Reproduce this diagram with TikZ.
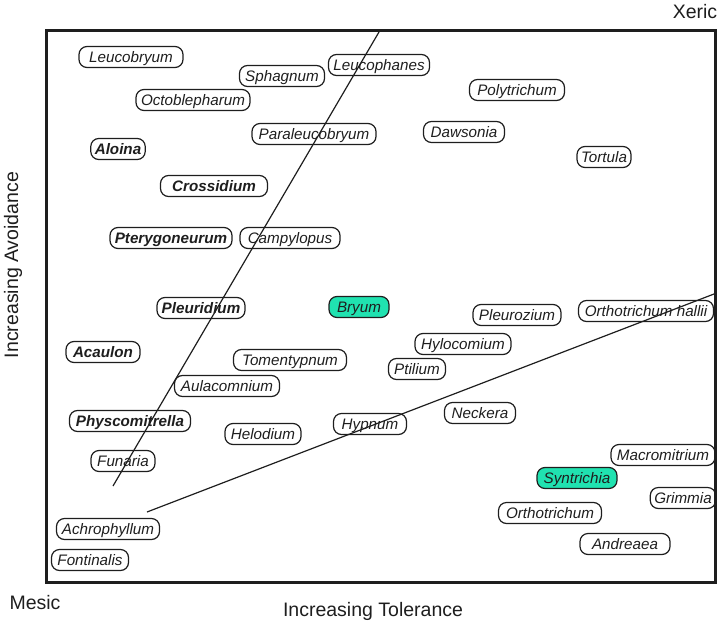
\documentclass[tikz,border=0pt]{standalone}
\usepackage{fontspec}
\setmainfont{Liberation Sans}
\definecolor{teal1}{RGB}{32,226,176}
\definecolor{ink}{RGB}{30,30,30}
\begin{document}
\begin{tikzpicture}[x=1pt,y=-1pt,
  sp/.style={draw=ink, line width=1.2pt, rounded corners=8pt, minimum height=21pt,
    inner xsep=4pt, inner ysep=0pt, text=ink, text height=10.9pt, text depth=0pt,
    font=\fontsize{15.2}{17}\selectfont\itshape},
  spb/.style={sp, font=\fontsize{15.2}{17}\selectfont\bfseries\itshape},
  spt/.style={sp, fill=teal1},
  axl/.style={font=\fontsize{19.5}{21}\selectfont, text=ink, inner sep=0pt},
  divl/.style={draw=ink, line width=1.2pt}]
\useasboundingbox (0,0) rectangle (719,623);
\draw[ink, line width=3pt] (46.5,31) rectangle (715,582);
\node[axl] (xeric) at (695,12) {Xeric};
\node[axl] (mesic) at (35,603) {Mesic};
\node[axl] (tol) at (373,611) {Increasing Tolerance};
\node[axl, rotate=90] (avo) at (13,265) {Increasing Avoidance};

\node[sp, minimum width=104pt] (leucobryum) at (131,57) {Leucobryum};
\node[sp, minimum width=85pt] (sphagnum) at (282,76) {Sphagnum};
\node[sp, minimum width=101pt] (leucophanes) at (379,65) {Leucophanes};
\node[sp, minimum width=114pt] (octoblepharum) at (193,100) {Octoblepharum};
\node[sp, minimum width=95pt] (polytrichum) at (517,90) {Polytrichum};
\node[sp, minimum width=124pt] (paraleucobryum) at (314,134) {Paraleucobryum};
\node[sp, minimum width=81pt] (dawsonia) at (464,132) {Dawsonia};
\node[sp, minimum width=54pt] (tortula) at (604,157) {Tortula};
\node[spb, minimum width=54pt] (aloina) at (118,149) {Aloina};
\node[spb, minimum width=107pt] (crossidium) at (214,186) {Crossidium};
\node[spb, minimum width=122pt] (pterygoneurum) at (171,238) {Pterygoneurum};
\node[sp, minimum width=100pt] (campylopus) at (290,238) {Campylopus};
\node[spb, minimum width=88pt] (pleuridium) at (201,308) {Pleuridium};
\node[spt, minimum width=60pt] (bryum) at (359,307) {Bryum};
\node[sp, minimum width=88pt] (pleurozium) at (517,315) {Pleurozium};
\node[sp, minimum width=135pt] (orthohallii) at (646,311) {Orthotrichum hallii};
\node[sp, minimum width=96pt] (hylocomium) at (463,344) {Hylocomium};
\node[spb, minimum width=74pt] (acaulon) at (103,352) {Acaulon};
\node[sp, minimum width=113pt] (tomentypnum) at (290,360) {Tomentypnum};
\node[sp, minimum width=57pt] (ptilium) at (417,369) {Ptilium};
\node[sp, minimum width=105pt] (aulacomnium) at (227,386) {Aulacomnium};
\node[spb, minimum width=121pt] (physcomitrella) at (130,421) {Physcomitrella};
\node[sp, minimum width=76pt] (helodium) at (263,434) {Helodium};
\node[sp, minimum width=73pt] (hypnum) at (370,424) {Hypnum};
\node[sp, minimum width=71pt] (neckera) at (480,413) {Neckera};
\node[sp, minimum width=64pt] (funaria) at (123,461) {Funaria};
\node[sp, minimum width=104pt] (macromitrium) at (663,455) {Macromitrium};
\node[spt, minimum width=80pt] (syntrichia) at (577,478) {Syntrichia};
\node[sp, minimum width=64pt] (grimmia) at (683,498) {Grimmia};
\node[sp, minimum width=103pt] (orthotrichum) at (550,513) {Orthotrichum};
\node[sp, minimum width=90pt] (andreaea) at (625,544) {Andreaea};
\node[sp, minimum width=103pt] (achrophyllum) at (108,529) {Achrophyllum};
\node[sp, minimum width=77pt] (fontinalis) at (90,560) {Fontinalis};

\coordinate (a1) at (113,486);
\coordinate (a2) at (379,32);
\coordinate (b1) at (147,512);
\coordinate (b2) at (714,294);
\draw[divl] (a1) -- (a2);
\draw[divl] (b1) -- (b2);
\end{tikzpicture}
\end{document}
